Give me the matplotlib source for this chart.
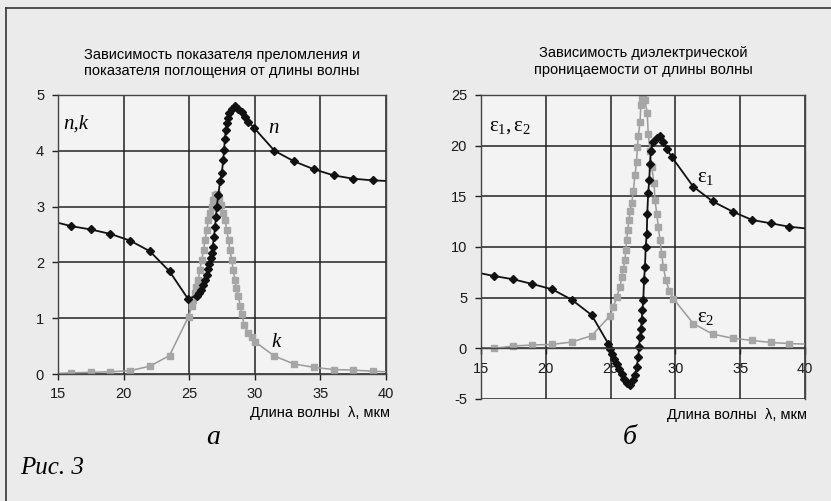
import numpy as np
import matplotlib
matplotlib.use("Agg")
import matplotlib.pyplot as plt
from matplotlib.lines import Line2D

plt.rcParams['font.family'] = ['Liberation Sans', 'DejaVu Sans']
plt.rcParams['axes.unicode_minus'] = False
plt.rcParams['mathtext.fontset'] = 'custom'
plt.rcParams['mathtext.rm'] = 'Liberation Serif'
plt.rcParams['mathtext.it'] = 'Liberation Serif:italic'

# --- left panel: n and k vs wavelength ---
n_x = [15.0, 16.0, 17.5, 19.0, 20.5, 22.0, 23.5, 24.9,
       25.57, 25.75, 25.9, 26.08, 26.2, 26.33, 26.46, 26.53, 26.64, 26.71, 26.79,
       26.89, 26.97, 27.04, 27.1, 27.22, 27.35, 27.48, 27.6, 27.65, 27.73, 27.78,
       27.86, 27.93, 28.03, 28.24, 28.49, 28.74, 29.0, 29.25, 29.5, 29.95,
       31.5, 33.0, 34.5, 36.0, 37.5, 39.0, 40.0]
n_y = [2.71, 2.65, 2.59, 2.51, 2.39, 2.20, 1.84, 1.35,
       1.40, 1.45, 1.51, 1.60, 1.68, 1.77, 1.89, 1.98, 2.07, 2.16, 2.28,
       2.46, 2.64, 2.82, 3.00, 3.21, 3.45, 3.60, 3.84, 4.01, 4.22, 4.37,
       4.49, 4.58, 4.67, 4.75, 4.81, 4.75, 4.69, 4.61, 4.52, 4.41,
       4.00, 3.81, 3.67, 3.56, 3.50, 3.47, 3.46]

k_x = [15.0, 16.0, 17.5, 19.0, 20.5, 22.0, 23.5, 24.95,
       25.2, 25.3, 25.45, 25.55, 25.7, 25.8, 25.95, 26.1, 26.2, 26.35, 26.45,
       26.6, 26.7, 26.85, 27.0, 27.15, 27.3, 27.45, 27.6, 27.75, 27.85, 28.0,
       28.1, 28.25, 28.35, 28.5, 28.6, 28.75, 28.9, 29.0, 29.2, 29.5, 29.75,
       30.0, 31.5, 33.0, 34.5, 36.0, 37.5, 39.0, 40.0]
k_y = [0.01, 0.02, 0.03, 0.04, 0.06, 0.14, 0.33, 1.03,
       1.21, 1.33, 1.45, 1.56, 1.68, 1.86, 2.04, 2.22, 2.40, 2.58, 2.76,
       2.88, 3.00, 3.12, 3.20, 3.22, 3.16, 3.02, 2.88, 2.76, 2.58, 2.40,
       2.22, 2.04, 1.86, 1.68, 1.54, 1.39, 1.22, 1.07, 0.88, 0.73, 0.66,
       0.58, 0.32, 0.18, 0.12, 0.08, 0.07, 0.05, 0.04]

# --- right panel: eps1 and eps2 vs wavelength ---
e1_x = [15.0, 16.0, 17.5, 18.96, 20.5, 22.0, 23.54, 24.82,
        24.95, 25.08, 25.29, 25.47, 25.65, 25.86, 26.06, 26.24, 26.5, 26.75,
        26.88, 27.01, 27.14, 27.19, 27.27, 27.35, 27.4, 27.45, 27.52, 27.58,
        27.65, 27.71, 27.79, 27.83, 27.9, 27.98, 28.04, 28.1, 28.3, 28.56,
        28.81, 29.07, 29.33, 29.71, 31.38, 32.88, 34.42, 35.91, 37.35, 38.79, 40.0]
e1_y = [7.4, 7.14, 6.81, 6.35, 5.82, 4.8, 3.28, 0.46,
        -0.03, -0.52, -1.02, -1.51, -2.0, -2.5, -2.99, -3.39, -3.6, -3.16,
        -2.67, -1.84, -0.86, 0.13, 1.12, 1.94, 2.76, 3.75, 4.74, 6.7,
        8.0, 10.0, 11.3, 13.3, 15.3, 16.6, 18.2, 19.5, 20.4, 20.8,
        21.0, 20.4, 19.7, 18.9, 15.95, 14.5, 13.49, 12.67, 12.34, 12.0, 11.84]

e2_x = [15.0, 16.0, 17.5, 18.96, 20.5, 22.0, 23.54, 24.95,
        25.21, 25.47, 25.73, 25.86, 25.98, 26.11, 26.17, 26.24, 26.32, 26.42,
        26.5, 26.63, 26.75, 26.88, 27.0, 27.07, 27.14, 27.27, 27.33, 27.4,
        27.52, 27.65, 27.83, 27.9, 28.04, 28.17, 28.35, 28.43, 28.56, 28.68,
        28.81, 28.94, 29.07, 29.27, 29.53, 29.84, 31.38, 32.88, 34.42, 35.91,
        37.35, 38.79, 40.0]
e2_y = [0.0, 0.0, 0.23, 0.33, 0.39, 0.62, 1.25, 3.2,
        4.08, 5.07, 6.05, 7.04, 7.87, 8.69, 9.67, 10.66, 11.65, 12.64,
        13.6, 14.3, 15.5, 17.1, 18.4, 19.9, 21.0, 22.3, 24.0, 24.6,
        24.6, 24.5, 23.2, 21.2, 19.5, 17.9, 16.3, 14.6, 13.3, 12.0,
        10.7, 9.35, 8.0, 6.7, 5.7, 4.9, 2.45, 1.4, 1.0, 0.78,
        0.58, 0.47, 0.42]

W, H = 831, 501
fig = plt.figure(figsize=(W / 100, H / 100), dpi=100, facecolor='#ebebeb')

def px_box(l, t, r, b):
    return [l / W, 1 - b / H, (r - l) / W, (b - t) / H]

def style_axes(ax):
    ax.set_facecolor('#f3f3f3')
    ax.grid(True, color='#222222', lw=1.1)
    ax.set_axisbelow(True)
    for s in ax.spines.values():
        s.set_color('#444444')
        s.set_linewidth(1.0)
    ax.tick_params(direction='out', length=4, width=1, colors='#222222',
                   labelsize=10.5, labelcolor='#1a1a1a')

black = dict(color='#111111', lw=1.3, marker='D', ms=4.2, mfc='#111111', mec='#111111')
gray = dict(color='#9a9a9a', lw=1.1, marker='s', ms=4.8, mfc='#a6a6a6', mec='#a6a6a6')

# left
ax1 = fig.add_axes(px_box(58, 95, 386, 374))
style_axes(ax1)
ax1.plot(k_x, k_y, markevery=list(range(1, len(k_x) - 1)), **gray)
ax1.plot(n_x, n_y, markevery=list(range(1, len(n_x) - 1)), **black)
ax1.set_xlim(15, 40)
ax1.set_ylim(0, 5)
ax1.set_xticks([15, 20, 25, 30, 35, 40])
ax1.set_yticks([0, 1, 2, 3, 4, 5])
ax1.tick_params(axis='x', pad=5)
ax1.tick_params(axis='y', pad=6)
ax1.text(0.5, 1.06, 'Зависимость показателя преломления и\nпоказателя поглощения от длины волны',
         transform=ax1.transAxes, ha='center', va='bottom', fontsize=10.5, linespacing=1.25)
ax1.text(15.4, 4.4, 'n,k', fontsize=15, family='Liberation Serif', style='italic')
ax1.text(31.0, 4.32, 'n', fontsize=15, family='Liberation Serif', style='italic')
ax1.text(31.3, 0.48, 'k', fontsize=15, family='Liberation Serif', style='italic')
ax1.text(1.012, -0.115, 'Длина волны  λ, мкм', transform=ax1.transAxes,
         ha='right', va='top', fontsize=10.5)

# right
ax2 = fig.add_axes(px_box(481, 95, 805, 399))
style_axes(ax2)
ax2.plot(e2_x, e2_y, markevery=list(range(1, len(e2_x) - 1)), **gray)
ax2.plot(e1_x, e1_y, markevery=list(range(1, len(e1_x) - 1)), **black)
ax2.set_xlim(15, 40)
ax2.set_ylim(-5, 25)
ax2.set_xticks([15, 20, 25, 30, 35, 40])
ax2.set_yticks([-5, 0, 5, 10, 15, 20, 25])
ax2.spines['bottom'].set_position(('data', 0))
ax2.tick_params(axis='x', pad=6)
ax2.tick_params(axis='y', pad=6)
ax2.text(0.5, 1.06, 'Зависимость диэлектрической\nпроницаемости от длины волны',
         transform=ax2.transAxes, ha='center', va='bottom', fontsize=10.5, linespacing=1.25)
ax2.text(15.6, 21.5, r'$\mathrm{ε_1,ε_2}$', fontsize=15)
ax2.text(31.7, 16.4, r'$\mathrm{ε_1}$', fontsize=15)
ax2.text(31.7, 2.6, r'$\mathrm{ε_2}$', fontsize=15)
ax2.text(1.005, -0.03, 'Длина волны  λ, мкм', transform=ax2.transAxes,
         ha='right', va='top', fontsize=10.5)

# panel letters and caption
fig.text(213 / W, 1 - 438 / H, 'а', fontsize=20, family='Liberation Serif',
         style='italic', ha='center', va='center')
fig.text(630 / W, 1 - 438 / H, 'б', fontsize=20, family='Liberation Serif',
         style='italic', ha='center', va='center')
fig.text(20 / W, 1 - 468 / H, 'Рис. 3', fontsize=18, family='Liberation Serif',
         style='italic', ha='left', va='center')

# page frame
fig.add_artist(Line2D([6 / W, 6 / W], [0, 1 - 8 / H], transform=fig.transFigure,
                      color='#333333', lw=1.2))
fig.add_artist(Line2D([6 / W, 1], [1 - 8 / H, 1 - 8 / H], transform=fig.transFigure,
                      color='#333333', lw=1.2))

fig.savefig('out.png', dpi=100, facecolor=fig.get_facecolor())
